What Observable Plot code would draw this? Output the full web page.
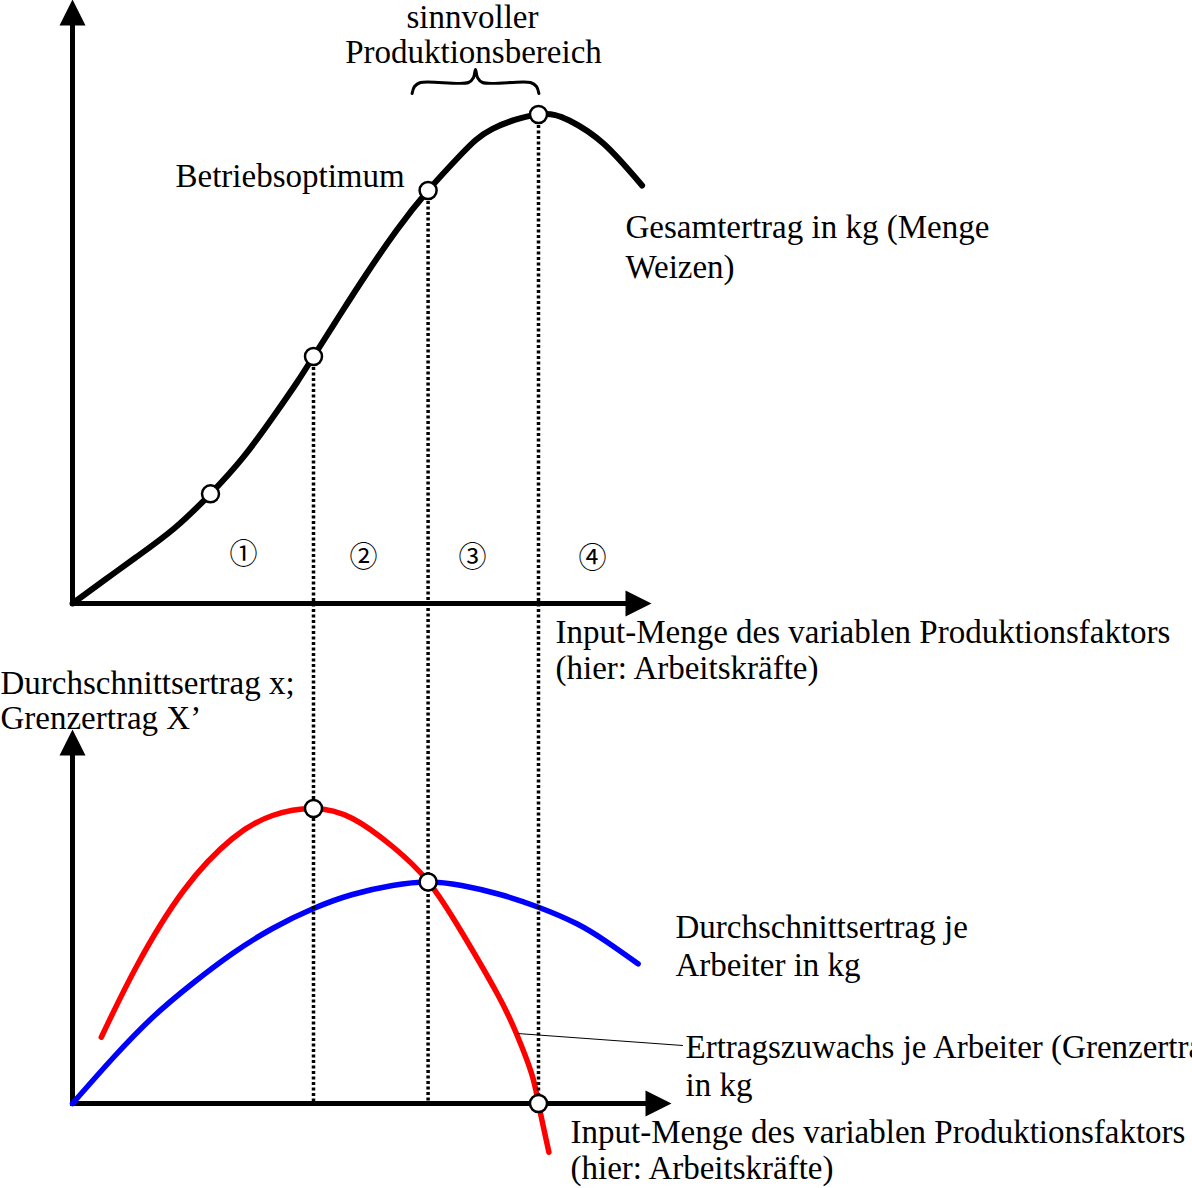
<!DOCTYPE html>
<html><head><meta charset="utf-8">
<script src="https://cdn.jsdelivr.net/npm/d3@7"></script>
<script src="https://cdn.jsdelivr.net/npm/@observablehq/plot@0.6"></script>
<style>html,body{margin:0;padding:0;background:#fff;overflow:hidden}</style>
</head><body><div id="chart"></div>
<script>
// ---- Data (x: Input-Menge / Arbeitskräfte, y: kg) ----
// Gesamtertrag (upper panel)
const totalX = [0, 0.82, 1.58, 2.54, 3.45, 4.27, 5.04, 5.61, 6.025, 6.66, 7.34, 8.1, 8.89, 9.73, 10.5, 11.65, 12.42, 13.28, 14.24];
const totalY = [0, 2.4, 4.6, 7.5, 10.97, 14.63, 18.8, 22.1, 24.7, 28.7, 32.9, 37.3, 41.3, 44.97, 47.47, 48.9, 48.3, 45.97, 41.8];
const totalMarkX = [3.45, 6.025, 8.89, 11.65];
const totalMarkY = [10.97, 24.7, 41.3, 48.9];

// Grenzertrag (red, lower panel)
const margX = [0.72, 1.6, 2.78, 4.0, 5.0, 6.025, 7.0, 8.0, 8.89, 9.75, 10.62, 11.1, 11.48, 11.65, 11.91];
const margY = [6.63, 13.7, 21.3, 26.5, 28.8, 29.5, 28.5, 25.7, 22.2, 17.0, 10.97, 6.97, 2.97, 0, -4.87];

// Durchschnittsertrag (blue, lower panel)
const avgX = [0, 1.0, 2.0, 3.0, 4.0, 5.0, 6.025, 7.0, 8.0, 8.89, 9.73, 10.69, 11.65, 12.61, 13.38, 14.14];
const avgY = [0, 4.5, 8.6, 12.0, 15.0, 17.5, 19.5, 20.9, 21.8, 22.15, 21.8, 20.9, 19.63, 17.97, 16.1, 13.97];
const lowerMarkX = [6.025, 8.89, 11.65];
const lowerMarkY = [29.5, 22.15, 0];

// Phase boundaries (dotted guide lines) and phase labels
const phaseBoundX = [6.025, 8.89, 11.65];
const phaseBoundTopY = [24.7, 41.3, 48.9];
const phaseLabels = ["①", "②", "③", "④"];
const phaseLabelX = [4.275, 7.275, 10.0, 13.0];
const phaseLabelY = [4.8, 4.5, 4.5, 4.4];

// Brace over "sinnvoller Produktionsbereich" (upper panel units)
const braceX = [8.49, 8.55, 8.7, 9.9, 10.025, 10.075, 10.125, 10.25, 11.45, 11.6, 11.66];
const braceY = [51.0, 51.7, 52.1, 52.1, 52.6, 53.4, 52.6, 52.1, 52.1, 51.7, 51.0];

// Axes: [upper, lower]
const panelBase = [50, 0];
const axisEndX = [13.825, 14.325];
const axisEndY = [57.8, 34.8];

// Text labels (upper panel)
const upperCenterTexts = ["sinnvoller", "Produktionsbereich"];
const upperCenterX = [10.0, 10.025];
const upperCenterY = [58.6, 55.1];
const upperStartTexts = ["Betriebsoptimum", "Gesamtertrag in kg (Menge", "Weizen)", "Input-Menge des variablen Produktionsfaktors", "(hier: Arbeitskräfte)"];
const upperStartX = [2.575, 13.825, 13.825, 12.075, 12.075];
const upperStartY = [42.7, 37.6, 33.6, -2.9, -6.5];

// Text labels (lower panel)
const lowerTexts = ["Durchschnittsertrag x;", "Grenzertrag X’", "Durchschnittsertrag je", "Arbeiter in kg", "Ertragszuwachs je Arbeiter (Grenzertrag)", "in kg", "Input-Menge des variablen Produktionsfaktors", "(hier: Arbeitskräfte)"];
const lowerTextX = [-1.8, -1.8, 15.075, 15.075, 15.325, 15.325, 12.45, 12.45];
const lowerTextY = [42.0, 38.5, 17.6, 13.8, 5.6, 1.8, -2.9, -6.5];

// Leader line from red curve to its label
const leaderX = [11.125, 15.25];
const leaderY = [7.0, 5.8];

// ---- Build tables ----
const TOP = panelBase[0];
const total = totalX.map((x, i) => ({x, y: totalY[i] + TOP}));
const totalMarks = totalMarkX.map((x, i) => ({x, y: totalMarkY[i] + TOP}));
const marg = margX.map((x, i) => ({x, y: margY[i]}));
const avg = avgX.map((x, i) => ({x, y: avgY[i]}));
const lowerMarks = lowerMarkX.map((x, i) => ({x, y: lowerMarkY[i]}));
const guides = phaseBoundX.map((x, i) => ({x, y1: phaseBoundTopY[i] + TOP, y2: 0}));
const phases = phaseLabels.map((t, i) => ({t, x: phaseLabelX[i], y: phaseLabelY[i] + TOP}));
const brace = braceX.map((x, i) => ({x, y: braceY[i] + TOP}));
const axisLines = [];
const arrowHeads = [];
panelBase.forEach((b, i) => {
  axisLines.push({x1: 0, y1: b, x2: axisEndX[i], y2: b});
  axisLines.push({x1: 0, y1: b, x2: 0, y2: b + axisEndY[i]});
  arrowHeads.push({x: axisEndX[i], y: b, rot: 90});
  arrowHeads.push({x: 0, y: b + axisEndY[i], rot: 0});
});
const upperCenterData = upperCenterTexts.map((t, i) => ({t, x: upperCenterX[i], y: upperCenterY[i] + TOP}));
const upperStartData = upperStartTexts.map((t, i) => ({t, x: upperStartX[i], y: upperStartY[i] + TOP}));
const lowerLabelData = lowerTexts.map((t, i) => ({t, x: lowerTextX[i], y: lowerTextY[i]}));
const leader = leaderX.map((x, i) => ({x, y: leaderY[i]}));

// filled arrowhead symbol: tip at (0,-h), base centred on origin
const arrowHead = {draw(ctx, size) { const h = Math.sqrt(size); ctx.moveTo(0, -h); ctx.lineTo(h / 2, 0); ctx.lineTo(-h / 2, 0); ctx.closePath(); }};

const FS = 33;
const chart = Plot.plot({
  width: 1192,
  height: 1188,
  margin: 0,
  x: {domain: [-1.8, 28], axis: null},
  y: {domain: [-8.5, 110.3], axis: null},
  style: {fontFamily: "'Liberation Serif', 'Times New Roman', serif", background: "#fff", overflow: "hidden"},
  marks: [
    Plot.link(axisLines, {x1: "x1", y1: "y1", x2: "x2", y2: "y2", stroke: "#000", strokeWidth: 5, strokeLinecap: "square"}),
    Plot.dot(arrowHeads, {x: "x", y: "y", rotate: "rot", symbol: arrowHead, r: 14.67, fill: "#000", stroke: "none"}),
    Plot.line(total, {x: "x", y: "y", stroke: "#000", strokeWidth: 6, curve: "natural"}),
    Plot.line(avg, {x: "x", y: "y", stroke: "#0000ff", strokeWidth: 5.5, curve: "natural"}),
    Plot.line(marg, {x: "x", y: "y", stroke: "#ff0000", strokeWidth: 5.5, curve: "natural"}),
    Plot.ruleX(guides, {x: "x", y1: "y1", y2: "y2", stroke: "#000", strokeWidth: 3.5, strokeDasharray: "3,2.5"}),
    Plot.line(brace, {x: "x", y: "y", stroke: "#000", strokeWidth: 3, curve: "catmull-rom"}),
    Plot.line(leader, {x: "x", y: "y", stroke: "#000", strokeWidth: 1}),
    Plot.dot(totalMarks, {x: "x", y: "y", r: 8.5, fill: "#fff", stroke: "#000", strokeWidth: 2.5}),
    Plot.dot(lowerMarks, {x: "x", y: "y", r: 8.5, fill: "#fff", stroke: "#000", strokeWidth: 2.5}),
    Plot.text(phases, {x: "x", y: "y", text: "t", fontSize: 28, fontFamily: "'Noto Sans CJK JP', sans-serif", fill: "#000"}),
    Plot.text(upperCenterData, {x: "x", y: "y", text: "t", textAnchor: "middle", fontSize: FS, fill: "#000"}),
    Plot.text(upperStartData, {x: "x", y: "y", text: "t", textAnchor: "start", fontSize: FS, fill: "#000"}),
    Plot.text(lowerLabelData, {x: "x", y: "y", text: "t", textAnchor: "start", fontSize: FS, fill: "#000"})
  ]
});
document.getElementById("chart").appendChild(chart);
</script>
</body></html>
